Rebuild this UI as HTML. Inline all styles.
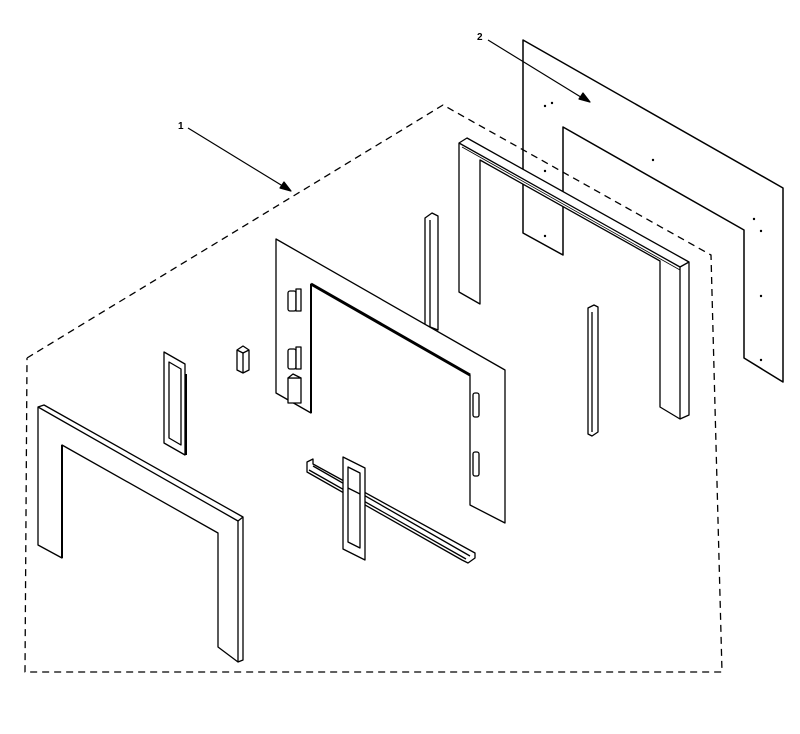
<!DOCTYPE html>
<html><head><style>html,body{margin:0;padding:0;background:#fff}svg{display:block}</style></head><body>
<svg width="800" height="734" viewBox="0 0 800 734" xmlns="http://www.w3.org/2000/svg" fill="#fff" stroke="#000" stroke-width="1.3" stroke-linejoin="round">
<!-- back panel 2 -->
<polygon points="523,40 783,188 783,382 744,358 744,230 563,127 563,255 523,233" fill="none" stroke-width="1.5"/>
<g fill="#000" stroke="none"><circle cx="545" cy="106" r="1.2"/><circle cx="552" cy="103" r="1.2"/><circle cx="653" cy="160" r="1.2"/><circle cx="754" cy="219" r="1.2"/><circle cx="761" cy="231" r="1.2"/><circle cx="761" cy="296" r="1.2"/><circle cx="761" cy="360" r="1.2"/><circle cx="545" cy="236" r="1.2"/><circle cx="545" cy="171" r="1.2"/></g>
<!-- dashed -->
<polyline points="27,358 443,105 711,255 722,672 25,672 27,358" fill="none" stroke-dasharray="7,5" stroke-width="1.3"/>
<!-- middle U frame -->
<polygon points="459,143 467,138 689,262 689,415 680,419 660,407 660,261 480,160 480,304 459,292"/>
<polyline points="459,143 680,267 680,419" fill="none"/>
<line x1="680" y1="267" x2="689" y2="262"/>
<line x1="462" y1="147" x2="680" y2="270" stroke-width="0.8"/>
<!-- channels -->
<polygon points="425,218 432,213 438,216 438,330 425,325" />
<line x1="430" y1="220" x2="430" y2="328"/>
<polygon points="588,308 594,305 598,307 598,432 592,436 588,434"/>
<line x1="592" y1="312" x2="592" y2="432"/>
<!-- center panel -->
<polygon points="276,239 505,370 505,523 470,505 470,375 311,284 311,413 276,393"/>
<line x1="311" y1="284" x2="470" y2="375" stroke-width="3"/>
<line x1="311" y1="284" x2="311" y2="413" stroke-width="2"/>
<g>
<rect x="288" y="291" width="8" height="20" rx="2"/><rect x="296" y="289" width="5" height="22"/>
<rect x="288" y="349" width="8" height="20" rx="2"/><rect x="296" y="347" width="5" height="22"/>
<rect x="288" y="378" width="13" height="25"/><polygon points="288,378 293,374 301,378"/>
<rect x="473" y="393" width="6" height="24" rx="2"/><rect x="473" y="452" width="6" height="24" rx="2"/>
</g>
<!-- front U frame -->
<polygon points="38,407 44,405 243,517 243,660 238,662 218,647 218,533 62,445 62,558 38,545"/>
<polyline points="38,407 238,521 238,662" fill="none"/>
<line x1="238" y1="521" x2="243" y2="517"/>
<line x1="62" y1="445" x2="62" y2="558" stroke-width="2"/>
<!-- small bracket -->
<polygon points="164,352 185,364 185,455 164,443"/>
<polygon points="169,362 181,369 181,445 169,438" fill="none"/>
<line x1="186" y1="374" x2="186" y2="455" stroke-width="2"/>
<!-- block -->
<polygon points="237,350 243,346 249,350 249,370 243,373 237,370"/>
<line x1="237" y1="350" x2="243" y2="353"/><line x1="243" y1="353" x2="249" y2="350"/><line x1="243" y1="353" x2="243" y2="373"/>
<!-- rail -->
<polygon points="307,462 313,459 313,464 475,553 475,558 468,563 462,560 307,472"/>
<line x1="313" y1="466" x2="470" y2="556"/>
<line x1="309" y1="470" x2="466" y2="559"/>
<!-- plate -->
<polygon points="343,457 365,468 365,560 343,549"/>
<polygon points="348,467 360,473 360,548 348,542" fill="none"/>
<line x1="348" y1="488" x2="360" y2="494"/>
<!-- labels/arrows -->
<g stroke-width="1.2">
<line x1="188" y1="128" x2="286" y2="188"/><polygon points="291,191 280,188 284,182" fill="#000"/>
<line x1="488" y1="40" x2="584" y2="99"/><polygon points="590,102 579,99 583,93" fill="#000"/>
</g>
<text x="178" y="129" font-family="Liberation Sans, sans-serif" font-size="10" font-weight="bold" fill="#000" stroke="none">1</text>
<text x="477" y="40" font-family="Liberation Sans, sans-serif" font-size="10" font-weight="bold" fill="#000" stroke="none">2</text>
</svg>
</body></html>
